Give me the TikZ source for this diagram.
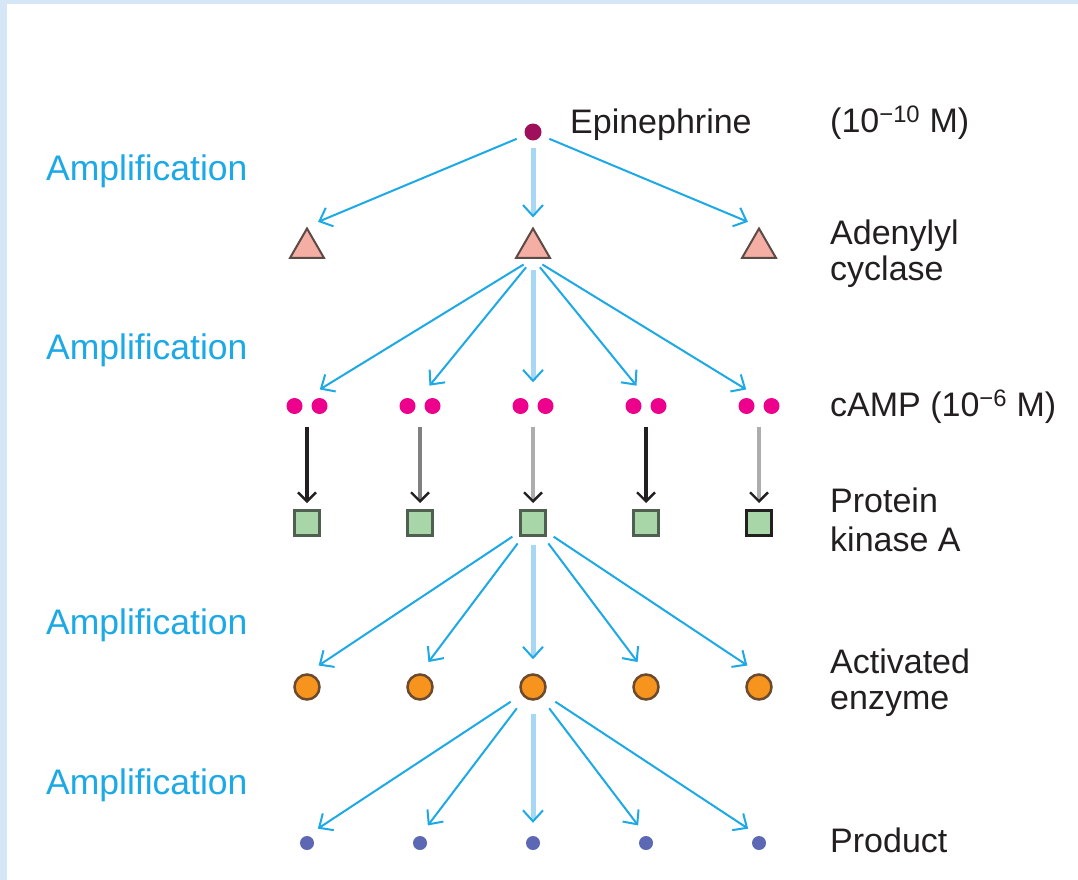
\documentclass[tikz,border=0pt]{standalone}
\usepackage{fontspec}
\setmainfont{Liberation Sans}
\usetikzlibrary{arrows.meta,shapes.geometric}
\definecolor{ampblue}{HTML}{1DA9E6}
\definecolor{paleblue}{HTML}{A6D7F4}
\definecolor{framecol}{HTML}{D5E7F6}
\definecolor{labgray}{HTML}{231F20}
\definecolor{epicol}{HTML}{9E0F5C}
\definecolor{cyccol}{HTML}{F4AEA3}
\definecolor{cycline}{HTML}{5C4A47}
\definecolor{campcol}{HTML}{EC008C}
\definecolor{pkacol}{HTML}{A8D6A9}
\definecolor{pkaline}{HTML}{4F5F50}
\definecolor{enzcol}{HTML}{F7941E}
\definecolor{enzline}{HTML}{6B4A2E}
\definecolor{prodcol}{HTML}{5D68B4}
\tikzset{epi/.style={circle,fill=epicol,inner sep=0pt,minimum size=17pt},
	 cyc/.style={regular polygon,regular polygon sides=3,draw=cycline,line width=2pt,fill=cyccol,inner sep=0pt,minimum size=39pt},
	 camp/.style={inner sep=0pt,minimum width=42pt,minimum height=17pt,
	   path picture={\fill[campcol] ([xshift=-12.5pt]path picture bounding box.center) circle (8pt);
	                 \fill[campcol] ([xshift=12.5pt]path picture bounding box.center) circle (8pt);}},
	 pka/.style={rectangle,draw=pkaline,line width=3pt,fill=pkacol,inner sep=0pt,minimum size=25pt},
	 enz/.style={circle,draw=enzline,line width=2.5pt,fill=enzcol,inner sep=0pt,minimum size=25pt},
	 prod/.style={circle,fill=prodcol,inner sep=0pt,minimum size=14pt},
	 amp/.style={draw=ampblue,line width=2pt,-{Straight Barb[length=11pt,width=20pt,line width=2pt]}},
	 ampmain/.style={draw=paleblue,line width=5pt,-{Straight Barb[length=11pt,width=20pt,line width=2pt,color=ampblue]}},
	 pkarrow/.style={line width=3.2pt,-{Straight Barb[length=9pt,width=18pt,line width=2.4pt,color=labgray]}},
	 amplabel/.style={text=ampblue,font=\fontsize{35.5}{36}\selectfont,anchor=base west,inner sep=0pt},
	 lab/.style={text=labgray,font=\fontsize{34}{36}\selectfont,anchor=base west,align=left,inner sep=0pt}
	 }
\begin{document}
\begin{tikzpicture}[x=1pt,y=-1pt] % cAMP cascade
	\fill[framecol] (0,0) rectangle (1078,880);
	\fill[white] (7,4) rectangle (1078,880);
	\useasboundingbox (0,0) rectangle (1078,880);

	\node[epi] (ep) at (533,132) {};
	\node[cyc] (ac1) at (307,248) {};
	\node[cyc] (ac2) at (533,248) {};
	\node[cyc] (ac3) at (759,248) {};
	\node[camp] (c1) at (307,406) {};
	\node[camp] (c2) at (420,406) {};
	\node[camp] (c3) at (533,406) {};
	\node[camp] (c4) at (646,406) {};
	\node[camp] (c5) at (759,406) {};
	\node[pka] (k1) at (307,523) {};
	\node[pka] (k2) at (420,523) {};
	\node[pka] (k3) at (533,523) {};
	\node[pka] (k4) at (646,523) {};
	\node[pka,draw=labgray] (k5) at (759,523) {};
	\node[enz] (e1) at (307,687) {};
	\node[enz] (e2) at (420,687) {};
	\node[enz] (e3) at (533,687) {};
	\node[enz] (e4) at (646,687) {};
	\node[enz] (e5) at (759,687) {};
	\node[prod] (p1) at (307,843) {};
	\node[prod] (p2) at (420,843) {};
	\node[prod] (p3) at (533,843) {};
	\node[prod] (p4) at (646,843) {};
	\node[prod] (p5) at (759,843) {};

	% labels
	\node[amplabel] (amp1) at (46,180) {Amplification};
	\node[amplabel] (amp2) at (46,359) {Amplification};
	\node[amplabel] (amp3) at (46,634) {Amplification};
	\node[amplabel] (amp4) at (46,794) {Amplification};
	\node[lab] (epi-lab) at (570,133) {Epinephrine};
	\node[lab] (conc1) at (830,132) {(10\textsuperscript{−10} M)};
	\node[lab] (cyc-lab) at (830,280) {Adenylyl\\cyclase};
	\node[lab] (camp-lab) at (830,416) {cAMP (10\textsuperscript{−6} M)};
	\node[lab,font=\fontsize{34}{39}\selectfont] (pka-lab) at (830,551) {Protein\\kinase A};
	\node[lab] (enz-lab) at (830,709) {Activated\\enzyme};
	\node[lab] (prod-lab) at (830,852) {Product};

	\draw[amp,shorten <=9pt,shorten >=12pt] (ep) -- (ac1.north);
	\draw[ampmain,shorten <=7pt,shorten >=9pt] (ep) -- (ac2.north);
	\draw[amp,shorten <=9pt,shorten >=12pt] (ep) -- (ac3.north);

	\draw[amp,shorten <=11pt,shorten >=15pt] (ac2.south) -- (c1.north);
	\draw[amp,shorten <=11pt,shorten >=15pt] (ac2.south) -- (c2.north);
	\draw[ampmain,shorten <=11pt,shorten >=15pt] (ac2.south) -- (c3.north);
	\draw[amp,shorten <=11pt,shorten >=15pt] (ac2.south) -- (c4.north);
	\draw[amp,shorten <=11pt,shorten >=15pt] (ac2.south) -- (c5.north);

	\draw[pkarrow,draw=labgray,shorten <=12pt,shorten >=6pt] (c1) -- (k1);
	\draw[pkarrow,draw=gray,shorten <=12pt,shorten >=6pt] (c2) -- (k2);
	\draw[pkarrow,draw=black!32,shorten <=12pt,shorten >=6pt] (c3) -- (k3);
	\draw[pkarrow,draw=labgray,shorten <=12pt,shorten >=6pt] (c4) -- (k4);
	\draw[pkarrow,draw=black!32,shorten <=12pt,shorten >=6pt] (c5) -- (k5);

	\draw[amp,shorten <=8pt,shorten >=14pt] (k3) -- (e1.north);
	\draw[amp,shorten <=8pt,shorten >=14pt] (k3) -- (e2.north);
	\draw[ampmain,shorten <=8pt,shorten >=14pt] (k3) -- (e3.north);
	\draw[amp,shorten <=8pt,shorten >=14pt] (k3) -- (e4.north);
	\draw[amp,shorten <=8pt,shorten >=14pt] (k3) -- (e5.north);

	\draw[amp,shorten <=13pt,shorten >=13pt] (e3) -- (p1.north);
	\draw[amp,shorten <=13pt,shorten >=13pt] (e3) -- (p2.north);
	\draw[ampmain,shorten <=13pt,shorten >=13pt] (e3) -- (p3.north);
	\draw[amp,shorten <=13pt,shorten >=13pt] (e3) -- (p4.north);
	\draw[amp,shorten <=13pt,shorten >=13pt] (e3) -- (p5.north);
\end{tikzpicture}
\end{document}
